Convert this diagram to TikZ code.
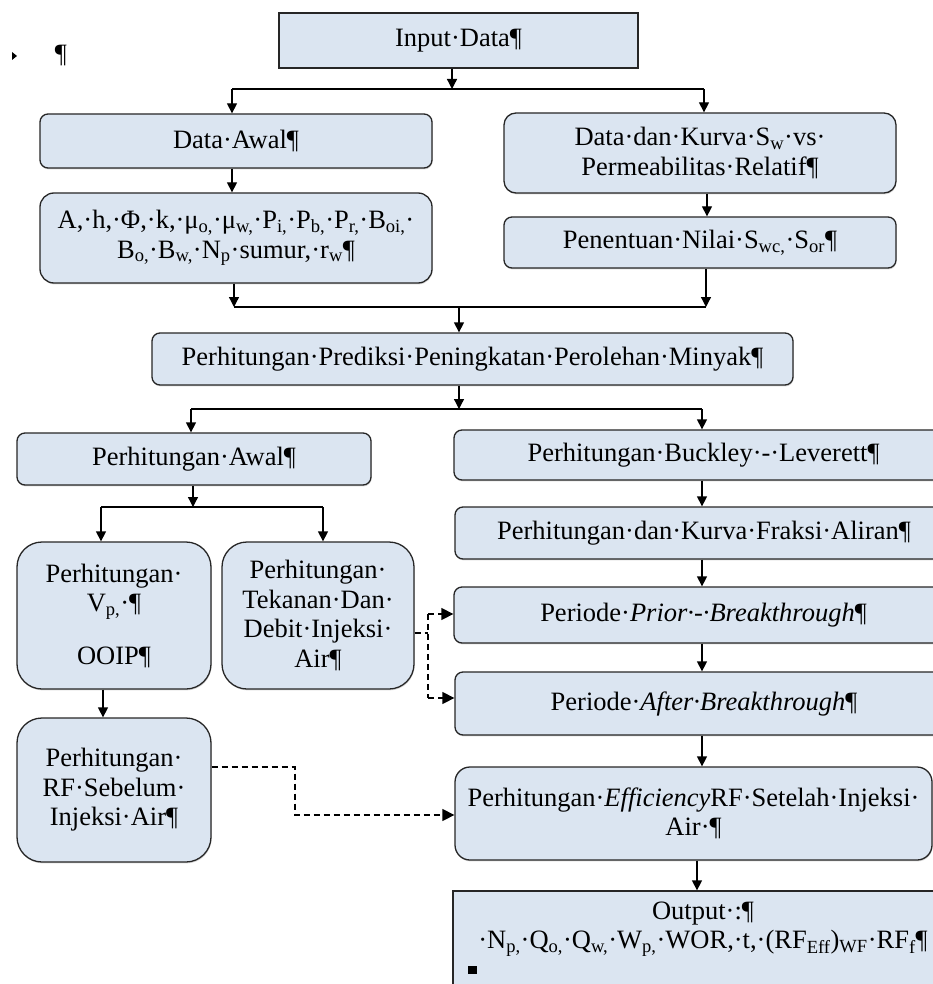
\documentclass[tikz,border=0pt]{standalone}
\usepackage{fontspec}
\setmainfont{Liberation Serif}
\usetikzlibrary{arrows.meta,shadows}
\newcommand\sbs[1]{\textsubscript{#1}}
\definecolor{boxfill}{HTML}{DBE5F1}
\definecolor{boxline}{HTML}{262626}
\begin{document}
\begin{tikzpicture}[x=1pt,y=-1pt,
  font=\fontsize{26.5}{29.5}\selectfont,
  base/.style={draw=boxline, line width=1.3pt, fill=boxfill, align=center, inner sep=0pt,
    drop shadow={shadow xshift=0.6pt,shadow yshift=-1.4pt,opacity=0.3}},
  sq/.style={base},
  rb/.style={base, rounded corners=#1},
  conn/.style={line width=1.3pt, draw=black},
  arr/.style={conn, -{Triangle[length=10pt,width=10pt]}},
  dline/.style={conn, dash pattern=on 6pt off 4pt},
  darr/.style={dline, -{Triangle[length=12pt,width=12pt]}}]
\useasboundingbox (0,0) rectangle (933,984);
\clip (0,0) rectangle (933,984);

% stray marks top-left
\fill (12,52) -- (17,56) -- (12,60) -- cycle;
\node (pil) at (61,55) {¶};

% nodes
\node[sq, minimum width=359pt, minimum height=55pt] (input) at (458.5,40.5) {Input·Data¶};
\node[rb=8pt, minimum width=392pt, minimum height=54pt] (dawal) at (236,141) {Data·Awal¶};
\node[rb=12pt, minimum width=392pt, minimum height=80pt] (kurva) at (700,153)
  {Data·dan·Kurva·S\sbs{w}·vs·\\Permeabilitas·Relatif¶};
\node[rb=14pt, minimum width=392pt, minimum height=90pt] (param) at (236,238)
  {A,·h,·Φ,·k,·μ\sbs{o,}·μ\sbs{w,}·P\sbs{i,}·P\sbs{b,}·P\sbs{r,}·B\sbs{oi,}·\\B\sbs{o,}·B\sbs{w,}·N\sbs{p}·sumur,·r\sbs{w}¶};
\node[rb=8pt, minimum width=392pt, minimum height=51pt] (pen) at (700,242.5)
  {Penentuan·Nilai·S\sbs{wc,}·S\sbs{or}¶};
\node[rb=8pt, minimum width=641pt, minimum height=52pt] (pred) at (472.5,359)
  {Perhitungan·Prediksi·Peningkatan·Perolehan·Minyak¶};
\node[rb=8pt, minimum width=354pt, minimum height=52pt] (pawal) at (194,459) {Perhitungan·Awal¶};
\node[rb=8pt, minimum width=499pt, minimum height=50pt] (buck) at (703.5,455)
  {Perhitungan·Buckley·-·Leverett¶};
\node[rb=8pt, minimum width=498pt, minimum height=52pt] (fraksi) at (704,533)
  {Perhitungan·dan·Kurva·Fraksi·Aliran¶};
\node[rb=8pt, minimum width=499pt, minimum height=56pt] (prior) at (703.5,615)
  {Periode·\textit{Prior·-·Breakthrough}¶};
\node[rb=8pt, minimum width=498pt, minimum height=63pt] (after) at (704,703.5)
  {Periode·\textit{After·Breakthrough}¶};
\node[rb=15pt, minimum width=477pt, minimum height=93pt] (eff) at (693.5,813.5)
  {Perhitungan·\textit{Efficiency}RF·Setelah·Injeksi·\\Air·¶};
\node[sq, minimum width=500pt, minimum height=112pt] (out) at (703,947)
  {Output·:¶\\·N\sbs{p,}·Q\sbs{o,}·Q\sbs{w,}·W\sbs{p,}·WOR,·t,·(RF\sbs{Eff})\sbs{WF}·RF\sbs{f}¶\\[14pt]};
\fill (468,966) rectangle (477,974);
\node[rb=25pt, minimum width=194pt, minimum height=147pt] (vp) at (114,615.5)
  {Perhitungan·\\V\sbs{p,}·¶\\[23pt]OOIP¶};
\node[rb=25pt, minimum width=192pt, minimum height=147pt] (tek) at (318,615.5)
  {Perhitungan·\\Tekanan·Dan·\\Debit·Injeksi·\\Air¶};
\node[rb=25pt, minimum width=194pt, minimum height=144pt] (rfs) at (114,790)
  {Perhitungan·\\RF·Sebelum·\\Injeksi·Air¶};

% connectors level 1
\coordinate (j1) at (452,89);
\coordinate (j1l) at (232,89);
\coordinate (j1r) at (704,89);
\draw[arr] (input.south -| j1) -- (j1);
\draw[conn] (j1l) -- (j1r);
\draw[arr] (j1l) -- (j1l |- dawal.north);
\draw[arr] (j1r) -- (j1r |- kurva.north);
\draw[arr] (dawal.south -| j1l) -- (j1l |- param.north);
\coordinate (cx1) at (707,200);
\draw[arr] (kurva.south -| cx1) -- (cx1 |- pen.north);

% level 2
\coordinate (j2l) at (234,307);
\coordinate (j2r) at (706,307);
\coordinate (j2m) at (459,307);
\draw[arr] (param.south -| j2l) -- (j2l);
\draw[arr] (pen.south -| j2r) -- (j2r);
\draw[conn] (j2l) -- (j2r);
\draw[arr] (j2m) -- (j2m |- pred.north);

% level 3
\coordinate (j3m) at (459,409);
\coordinate (j3l) at (191,409);
\coordinate (j3r) at (702,409);
\draw[arr] (pred.south -| j3m) -- (j3m);
\draw[conn] (j3l) -- (j3r);
\draw[arr] (j3l) -- (j3l |- pawal.north);
\draw[arr] (j3r) -- (j3r |- buck.north);

% left branch
\coordinate (j4m) at (193,507);
\coordinate (j4l) at (101,507);
\coordinate (j4r) at (323,507);
\draw[arr] (pawal.south -| j4m) -- (j4m);
\draw[conn] (j4l) -- (j4r);
\draw[arr] (j4l) -- (j4l |- vp.north);
\draw[arr] (j4r) -- (j4r |- tek.north);
\coordinate (cx2) at (103,700);
\draw[arr] (vp.south -| cx2) -- (cx2 |- rfs.north);

% right column
\coordinate (cr) at (702,500);
\draw[arr] (buck.south -| cr) -- (cr |- fraksi.north);
\draw[arr] (fraksi.south -| cr) -- (cr |- prior.north);
\draw[arr] (prior.south -| cr) -- (cr |- after.north);
\draw[arr] (after.south -| cr) -- (cr |- eff.north);
\coordinate (cr2) at (697,870);
\draw[arr] (eff.south -| cr2) -- (cr2 |- out.north);

% dashed connectors
\coordinate (d1) at (428,633);
\coordinate (d1t) at (428,614);
\coordinate (d1b) at (428,698);
\draw[dline] (tek.east |- d1) -- (d1);
\draw[dline] (d1t) -- (d1b);
\draw[darr] (d1t) -- (d1t -| prior.west);
\draw[darr] (d1b) -- (d1b -| after.west);
\coordinate (d2a) at (295,767);
\coordinate (d2b) at (295,815);
\draw[darr] (rfs.east |- d2a) -- (d2a) -- (d2b) -- (d2b -| eff.west);
\end{tikzpicture}
\end{document}
